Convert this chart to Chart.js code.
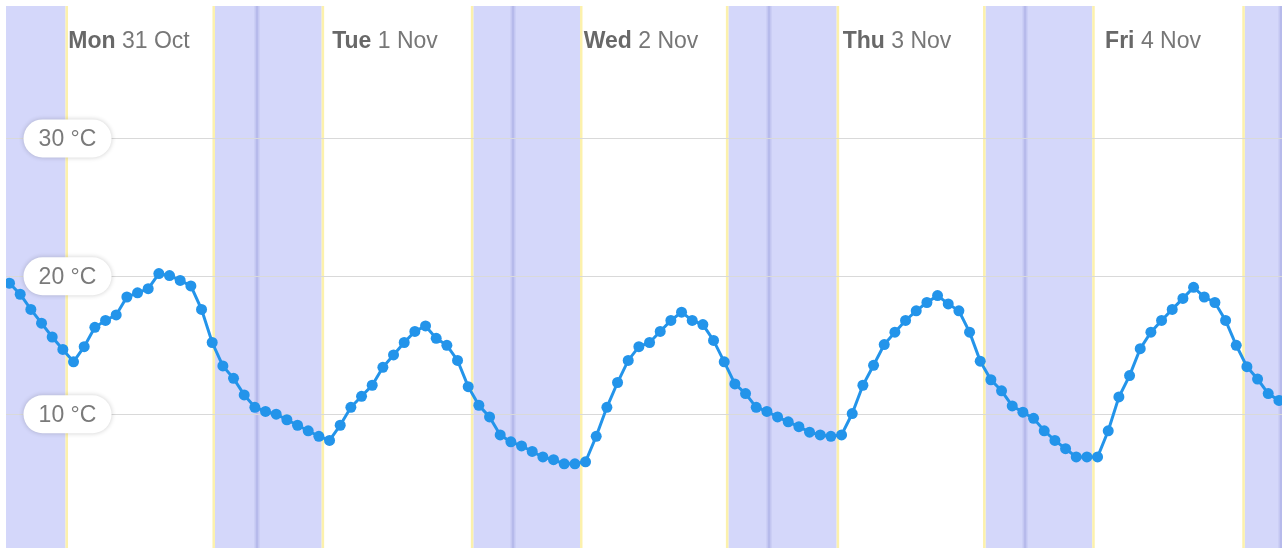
<!DOCTYPE html>
<html>
<head>
<meta charset="utf-8">
<script src="https://cdn.jsdelivr.net/npm/chart.js@4.4.0/dist/chart.umd.min.js"></script>
<style>
html,body{margin:0;padding:0;background:#fff;overflow:hidden}
#c{display:block}
</style>
</head>
<body>
<canvas id="c" width="1288" height="548"></canvas>
<script>
// ---- data ----
const dayNames = ['Mon', 'Tue', 'Wed', 'Thu', 'Fri'];
const dayDates = ['31 Oct', '1 Nov', '2 Nov', '3 Nov', '4 Nov'];
const dayNoon = [12, 36, 60, 84, 108];           // hours since Mon 00:00
const midnights = [24, 48, 72, 96, 120];         // hours since Mon 00:00
const sunrise = [6.05, 30.06, 54.28, 78.34, 102.3];
const sunset = [20.06, 44.28, 68.19, 92.3, 116.6];
const firstReadingHour = -0.2;                   // hourly readings start here
const temps = [
  19.9, 19.5, 18.7, 17.6, 16.6, 15.6, 14.7, 13.8, 14.9, 16.3,
  16.8, 17.2, 18.5, 18.8, 19.1, 20.2, 20.05, 19.7, 19.3, 17.6,
  15.2, 13.5, 12.6, 11.4, 10.5, 10.2, 10.0, 9.6, 9.2, 8.8,
  8.4, 8.1, 9.2, 10.5, 11.3, 12.1, 13.4, 14.3, 15.2, 16.0,
  16.4, 15.5, 15.0, 13.9, 12.0, 10.65, 9.8, 8.5, 8.0, 7.7,
  7.3, 6.9, 6.7, 6.4, 6.4, 6.55, 8.4, 10.5, 12.3, 13.9,
  14.9, 15.2, 16.0, 16.8, 17.4, 16.8, 16.5, 15.35, 13.8, 12.2,
  11.5, 10.5, 10.2, 9.8, 9.45, 9.1, 8.7, 8.5, 8.4, 8.5,
  10.05, 12.1, 13.55, 15.05, 15.95, 16.8, 17.5, 18.1, 18.6, 18.0,
  17.5, 15.95, 13.85, 12.5, 11.7, 10.6, 10.15, 9.7, 8.8, 8.1,
  7.5, 6.9, 6.9, 6.9, 8.8, 11.25, 12.8, 14.75, 15.95, 16.8,
  17.6, 18.4, 19.2, 18.5, 18.1, 16.8, 15.0, 13.45, 12.55, 11.5,
  11.0
];
const yTicks = [10, 20, 30];
const xRange = [0.47, 120.09];
const yRange = [0.3, 39.6];

const FONT = '"Liberation Sans", Arial, sans-serif';

const nightPlugin = {
  id: 'nightBands',
  beforeDraw(chart) {
    const {ctx, chartArea: a, scales: {x}} = chart;
    ctx.save();
    ctx.beginPath();
    ctx.rect(a.left, a.top, a.right - a.left, a.bottom - a.top);
    ctx.clip();
    const nights = [[xRange[0] - 12, sunrise[0]]];
    for (let i = 0; i < sunset.length; i++) {
      nights.push([sunset[i], i + 1 < sunrise.length ? sunrise[i + 1] : xRange[1] + 12]);
    }
    ctx.fillStyle = '#d4d7fa';
    nights.forEach(([s, e]) => {
      const x1 = x.getPixelForValue(s), x2 = x.getPixelForValue(e);
      ctx.fillRect(x1, a.top, x2 - x1, a.bottom - a.top);
    });
    ctx.fillStyle = 'rgba(140,146,215,0.22)';
    midnights.forEach(m => {
      const px = x.getPixelForValue(m);
      ctx.fillRect(px - 2.5, a.top, 5, a.bottom - a.top);
    });
    ctx.fillStyle = 'rgba(130,136,210,0.2)';
    midnights.forEach(m => {
      const px = x.getPixelForValue(m);
      ctx.fillRect(px - 1, a.top, 2, a.bottom - a.top);
    });
    ctx.fillStyle = '#fcf1ac';
    sunrise.forEach(h => {
      const px = x.getPixelForValue(h);
      ctx.fillRect(px, a.top, 2.5, a.bottom - a.top);
    });
    sunset.forEach(h => {
      const px = x.getPixelForValue(h);
      ctx.fillRect(px - 2.5, a.top, 2.5, a.bottom - a.top);
    });
    ctx.restore();
  }
};

const labelPlugin = {
  id: 'labels',
  beforeDatasetsDraw(chart) {
    const {ctx, chartArea: a, scales: {x, y}} = chart;
    ctx.save();
    // y tick pills
    ctx.font = '23px ' + FONT;
    yTicks.forEach(v => {
      const py = y.getPixelForValue(v);
      const w = 88, h = 38, cx = 67.5;
      ctx.save();
      ctx.shadowColor = 'rgba(0,0,0,0.2)';
      ctx.shadowBlur = 5;
      ctx.fillStyle = '#ffffff';
      ctx.beginPath();
      ctx.roundRect(cx - w / 2, py - h / 2, w, h, h / 2);
      ctx.fill();
      ctx.restore();
      ctx.fillStyle = '#7a7a7a';
      ctx.textAlign = 'center';
      ctx.textBaseline = 'middle';
      ctx.fillText(v + ' °C', cx, py + 1);
    });
    // day labels
    ctx.textBaseline = 'alphabetic';
    ctx.textAlign = 'left';
    dayNames.forEach((d, i) => {
      const cx = x.getPixelForValue(dayNoon[i]);
      ctx.font = 'bold 23px ' + FONT;
      const w1 = ctx.measureText(d + ' ').width;
      ctx.font = '23px ' + FONT;
      const w2 = ctx.measureText(dayDates[i]).width;
      const left = cx - (w1 + w2) / 2;
      ctx.font = 'bold 23px ' + FONT;
      ctx.fillStyle = '#686868';
      ctx.fillText(d + ' ', left, 48);
      ctx.font = '23px ' + FONT;
      ctx.fillStyle = '#777777';
      ctx.fillText(dayDates[i], left + w1, 48);
    });
    ctx.restore();
  }
};

new Chart(document.getElementById('c'), {
  type: 'line',
  data: {
    datasets: [{
      data: temps.map((t, i) => ({x: firstReadingHour + i, y: t})),
      borderColor: '#2394ea',
      backgroundColor: '#2394ea',
      pointBackgroundColor: '#2394ea',
      pointRadius: 5.5,
      pointHoverRadius: 5.5,
      pointBorderWidth: 0,
      borderWidth: 3,
      tension: 0,
      fill: false
    }]
  },
  options: {
    responsive: false,
    animation: false,
    devicePixelRatio: 1,
    layout: {autoPadding: false, padding: {left: 6, top: 6, right: 6, bottom: 0}},
    plugins: {legend: {display: false}, tooltip: {enabled: false}},
    events: [],
    scales: {
      x: {type: 'linear', min: xRange[0], max: xRange[1], display: false},
      y: {
        type: 'linear',
        min: yRange[0], max: yRange[1],
        afterBuildTicks: s => { s.ticks = yTicks.map(v => ({value: v})); },
        afterFit: s => { s.width = 0; },
        ticks: {display: false},
        grid: {color: '#d9d9d9', lineWidth: 1, drawTicks: false},
        border: {display: false}
      }
    }
  },
  plugins: [nightPlugin, labelPlugin]
});
</script>
</body>
</html>
